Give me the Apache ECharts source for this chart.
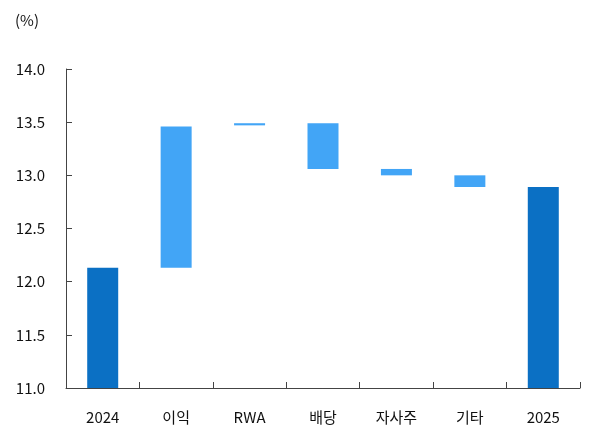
<!DOCTYPE html>
<html>
<head>
<meta charset="utf-8">
<script src="https://cdn.jsdelivr.net/npm/echarts@6/dist/echarts.min.js"></script>
<style>
html,body{margin:0;padding:0;background:#fff;}
#chart{width:599px;height:430px;}
</style>
</head>
<body>
<div id="chart"></div>
<script>
// 항목별 시작값 / 끝값 (%)
var categories = ['2024', '이익', 'RWA', '배당', '자사주', '기타', '2025'];
var startVals = [11.0, 12.13, 13.47, 13.49, 13.06, 13.00, 11.0];
var endVals   = [12.13, 13.46, 13.49, 13.06, 13.00, 12.89, 12.89];

var darkBlue = '#0B70C4';
var lightBlue = '#42A5F6';

var baseData = [];
var barData = [];
for (var i = 0; i < categories.length; i++) {
	var lo = Math.min(startVals[i], endVals[i]);
	var hi = Math.max(startVals[i], endVals[i]);
	baseData.push(lo);
	var total = (i == 0 || i == categories.length - 1);
	barData.push({
		value: +(hi - lo).toFixed(4),
		itemStyle: { color: total ? darkBlue : lightBlue }
	});
}

var option = {
	animation: false,
	backgroundColor: '#fff',
	textStyle: { fontFamily: 'Noto Sans CJK KR' },
	graphic: [{
		type: 'text', left: 15, top: 13,
		style: { text: '(%)', fontSize: 15, fill: '#111', fontFamily: 'Noto Sans CJK KR' }
	}],
	grid: { left: 66, right: 19, top: 69, bottom: 42 },
	xAxis: {
		type: 'category',
		data: categories,
		axisLine: { lineStyle: { color: '#444', width: 1 } },
		axisTick: { show: true, inside: true, length: 6, lineStyle: { color: '#444' } },
		axisLabel: { color: '#111', fontSize: 15, margin: 22 }
	},
	yAxis: {
		type: 'value',
		min: 11, max: 14, interval: 0.5,
		splitLine: { show: false },
		axisLine: { show: true, lineStyle: { color: '#444', width: 1 } },
		axisTick: { show: true, inside: true, length: 6, lineStyle: { color: '#444' } },
		axisLabel: {
			color: '#111', fontSize: 15, margin: 21,
			formatter: function (v) { return v.toFixed(1); }
		}
	},
	series: [
		{
			type: 'bar', stack: 'w', data: baseData,
			itemStyle: { color: 'transparent' },
			barWidth: 31, silent: true
		},
		{
			type: 'bar', stack: 'w', data: barData,
			barWidth: 31
		}
	]
};

var myChart = echarts.init(document.getElementById('chart'));
myChart.setOption(option);
</script>
</body>
</html>
